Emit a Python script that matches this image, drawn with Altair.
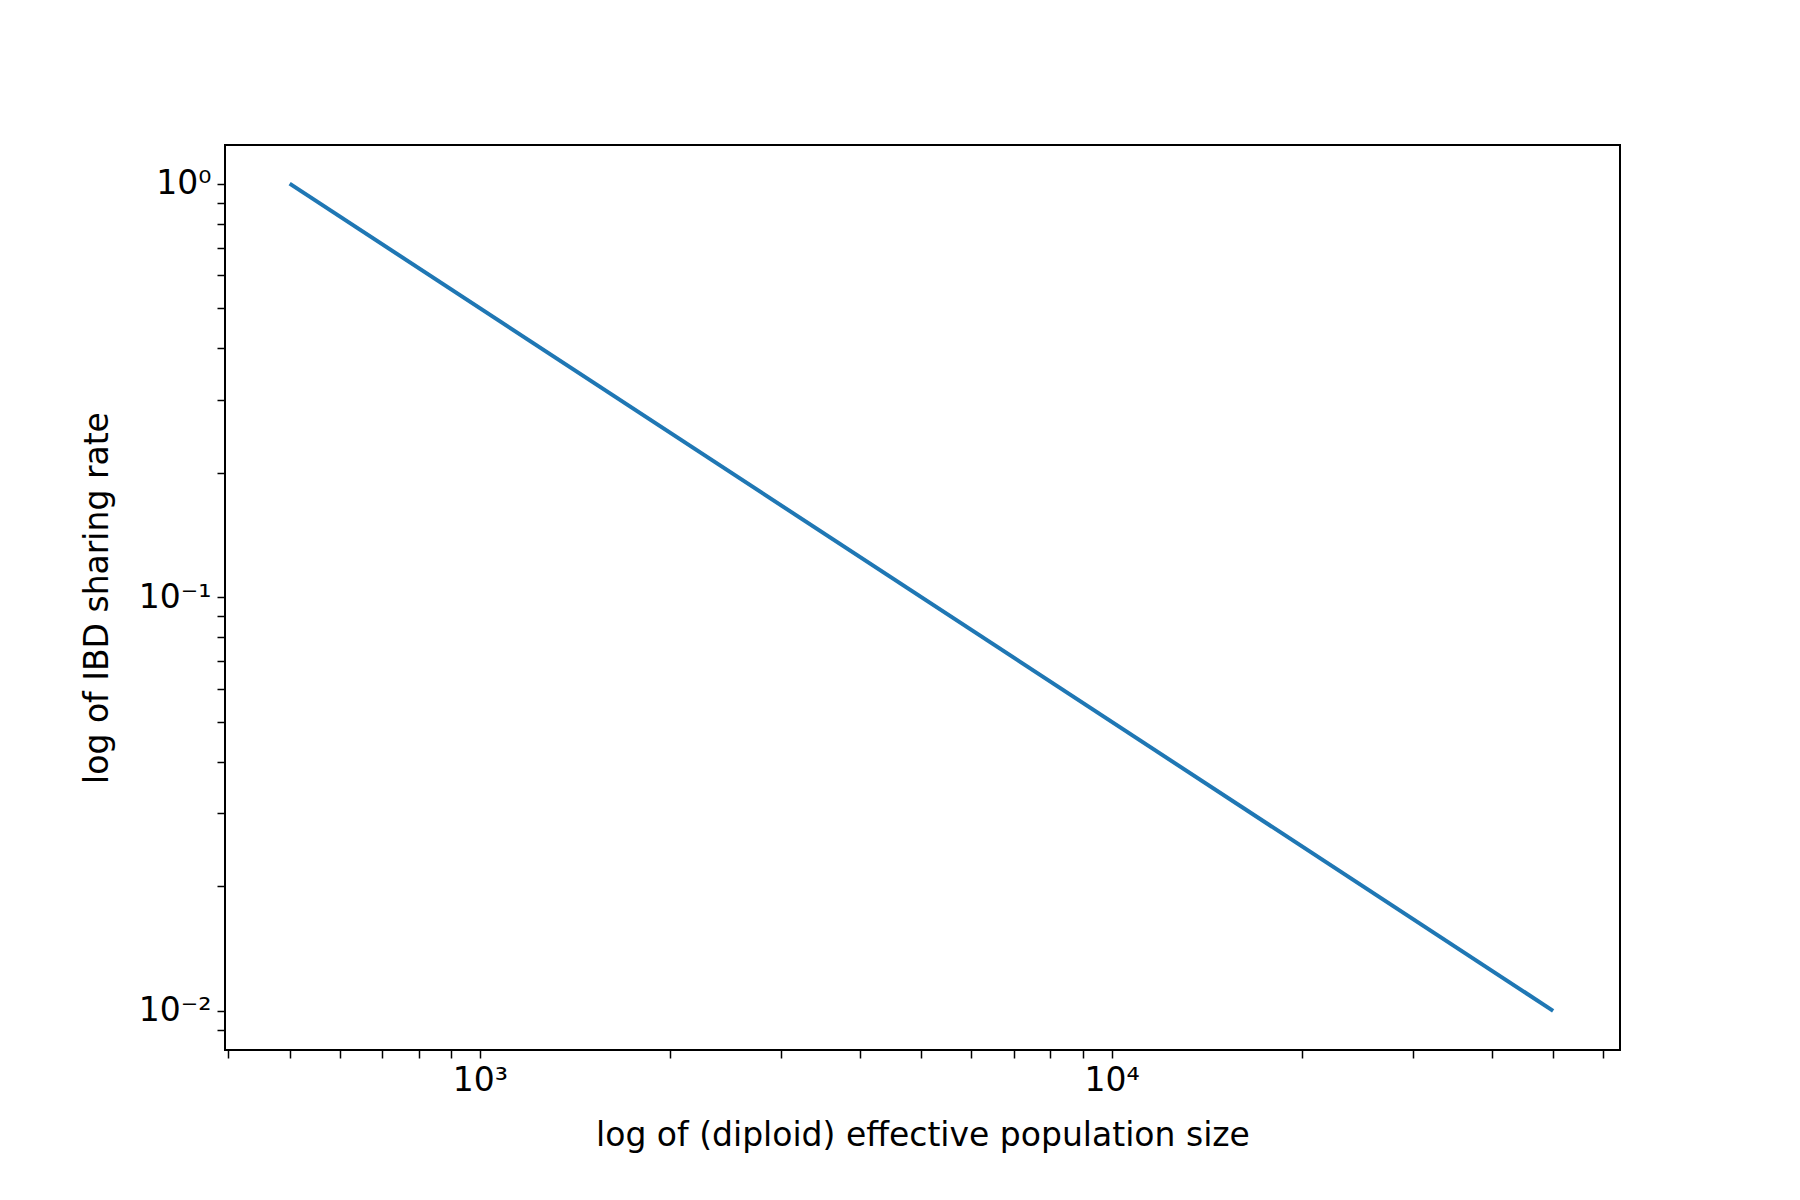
import altair as alt
import pandas as pd

# population size vs IBD sharing rate (straight line on log-log)
ne = [500, 50000]
rate = [1.0, 0.01]
df = pd.DataFrame({"ne": ne, "rate": rate})

x_ticks = [400, 500, 600, 700, 800, 900, 1000, 2000, 3000, 4000, 5000, 6000,
           7000, 8000, 9000, 10000, 20000, 30000, 40000, 50000, 60000]
y_ticks = [0.009, 0.01, 0.02, 0.03, 0.04, 0.05, 0.06, 0.07, 0.08, 0.09, 0.1,
           0.2, 0.3, 0.4, 0.5, 0.6, 0.7, 0.8, 0.9, 1.0]

x_label = "datum.value == 1000 ? '10³' : datum.value == 10000 ? '10⁴' : ''"
y_label = ("datum.value == 1 ? '10⁰' : datum.value == 0.1 ? '10⁻¹' : "
           "datum.value == 0.01 ? '10⁻²' : ''")

axis_common = dict(
    domain=False, grid=False, tickColor="black", tickWidth=1.5, tickSize=8,
    labelFont="DejaVu Sans", labelFontSize=33, labelColor="black",
    titleFont="DejaVu Sans", titleFontSize=33, titleFontWeight="normal",
    titleColor="black",
)

chart = (
    alt.Chart(df)
    .mark_line(color="#1f77b4", strokeWidth=4, clip=True)
    .encode(
        x=alt.X("ne:Q", scale=alt.Scale(type="log", domain=[395, 63800], nice=False),
                axis=alt.Axis(values=x_ticks, labelExpr=x_label, labelPadding=6,
                              title="log of (diploid) effective population size",
                              titlePadding=22, **axis_common)),
        y=alt.Y("rate:Q", scale=alt.Scale(type="log", domain=[0.00804, 1.24], nice=False),
                axis=alt.Axis(values=y_ticks, labelExpr=y_label, labelPadding=6,
                              title="log of IBD sharing rate", titlePadding=24,
                              **axis_common)),
    )
    .properties(
        width=1395, height=905,
        autosize=alt.AutoSizeParams(type="none"),
        padding={"left": 217, "top": 137, "right": 172, "bottom": 142},
    )
    .configure(background="white", view=alt.ViewConfig(stroke="black", strokeWidth=2))
)

chart.save("out.html", embed_options={"renderer": "svg", "actions": False})
